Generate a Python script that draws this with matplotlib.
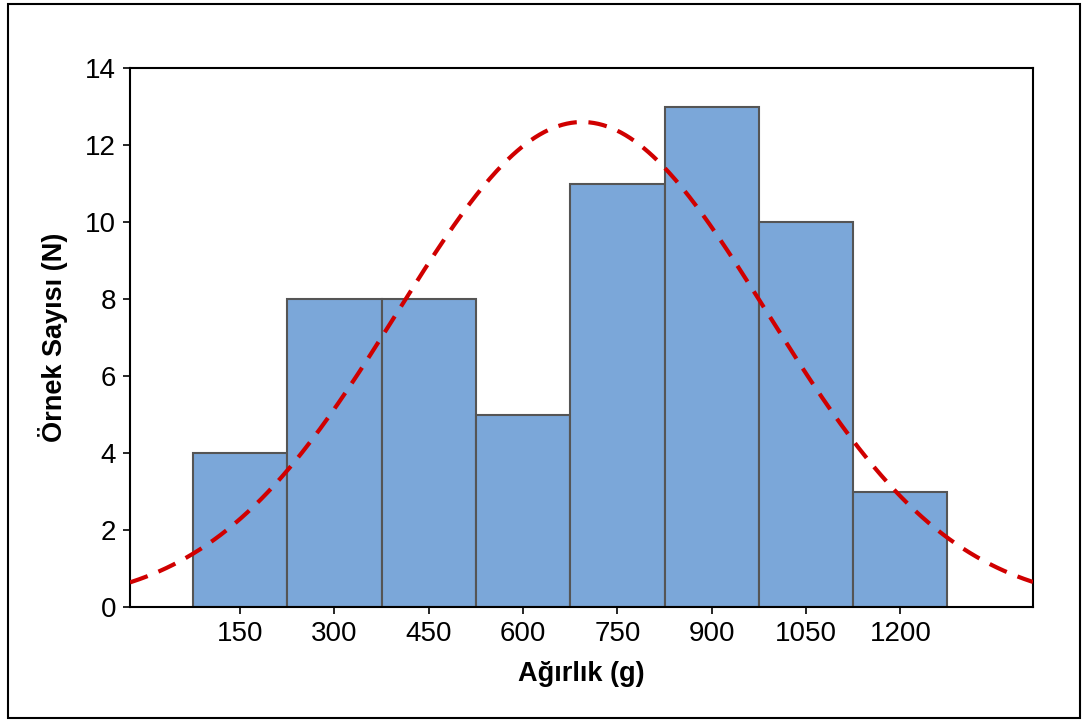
import matplotlib.pyplot as plt
import numpy as np
from matplotlib.patches import Rectangle

plt.rcParams['font.family'] = ['Liberation Sans', 'DejaVu Sans']

# histogram data
centers = [150, 300, 450, 600, 750, 900, 1050, 1200]
counts = [4, 8, 8, 5, 11, 13, 10, 3]
bin_width = 150

# fitted normal curve parameters
fit_mean = 694
fit_sd = 294.5

fig = plt.figure(figsize=(10.86, 7.2), dpi=100)
ax = fig.add_axes([0.1197, 0.1569, 0.8315, 0.7486])

ax.bar(centers, counts, width=bin_width, color="#7BA7D9",
       edgecolor="#555555", linewidth=1.5, zorder=2)

x = np.linspace(-25, 1411, 400)
n = sum(counts)
y = n * bin_width / (fit_sd * np.sqrt(2 * np.pi)) * np.exp(-0.5 * ((x - fit_mean) / fit_sd) ** 2)
ax.plot(x, y, color="#D00000", linewidth=3, dashes=(4.5, 2.8), zorder=3)

ax.set_xlim(-25, 1411)
ax.set_ylim(0, 14)
ax.set_xticks(centers)
ax.set_yticks(range(0, 15, 2))
ax.tick_params(direction="out", length=5, width=1.2, labelsize=20, pad=5)
for s in ax.spines.values():
    s.set_linewidth(1.5)

ax.set_xlabel("Ağırlık (g)", fontsize=19.5, fontweight="bold", labelpad=10)
ax.set_ylabel("Örnek Sayısı (N)", fontsize=19.5, fontweight="bold", labelpad=12)

fig.patches.append(Rectangle((8 / 1086, 2 / 720), 1072 / 1086, 714 / 720,
                             transform=fig.transFigure, fill=False,
                             edgecolor="black", linewidth=1.5))

fig.savefig("out.png", dpi=100)
